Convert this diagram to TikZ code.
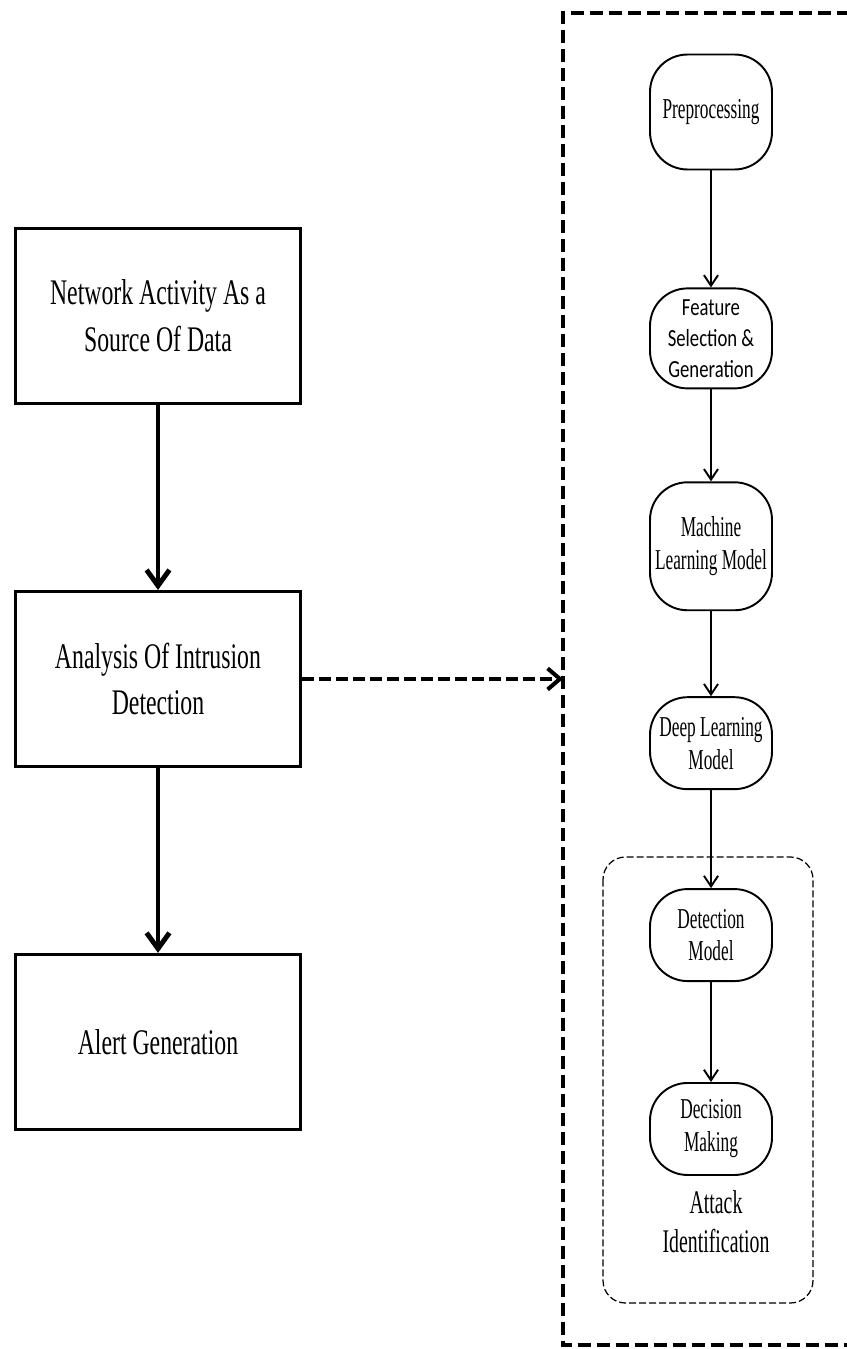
\documentclass[tikz,border=0pt]{standalone}
\usepackage{fontspec}
\setmainfont{Liberation Serif}[FakeStretch=0.66]
\newfontfamily\stepfont{Liberation Serif}[FakeStretch=0.6]
\newfontfamily\featfont{Carlito}[FakeStretch=0.76]
\usetikzlibrary{arrows.meta,positioning}

\begin{document}
\begin{tikzpicture}[x=0.02cm,y=-0.02cm,
      mybox/.style={
         draw=black,
         line width=1.7pt,
         minimum width=5.72cm,
         minimum height=3.5cm,
         inner sep=0pt,
         align=center,
         font=\fontsize{20.5}{26.6}\selectfont},
      myround/.style={
         draw=black,
         line width=1.1pt,
         rounded corners=0.75cm,
         minimum width=2.44cm,
         inner sep=0pt,
         align=center,
         font=\stepfont\fontsize{16.4}{18.7}\selectfont},
      myarrow/.style={-{Straight Barb[length=6pt,width=8pt]},line width=1.1pt},
      bigarrow/.style={-{Straight Barb[length=9pt,width=13pt]},line width=2.8pt},
      dasharrow/.style={-{Straight Barb[length=7pt,width=12pt]},line width=2.3pt,
         dash pattern=on 0.24cm off 0.1cm},
      framebox/.style={line width=2.3pt,dash pattern=on 0.26cm off 0.12cm},
      groupbox/.style={line width=0.7pt,dash pattern=on 0.14cm off 0.06cm,
         rounded corners=0.45cm},
      node distance=3.7cm
      ]
      \useasboundingbox (0,0) rectangle (846,1349);

      % left column
      \node[mybox] (src) at (158,316) {Network Activity As a\\Source Of Data};
      \node[mybox,below=of src] (ana) {Analysis Of Intrusion\\Detection};
      \node[mybox,below=of ana] (alert) {Alert Generation};

      % right column
      \node[myround,minimum height=2.3cm] (pre) at (711,112) {Preprocessing};
      \node[myround,minimum height=2.0cm,below=2.34cm of pre,
         font=\featfont\fontsize{14}{17.6}\selectfont] (feat) {Feature\\Selection \&\\Generation};
      \node[myround,minimum height=2.56cm,below=1.84cm of feat] (ml) {Machine\\Learning Model};
      \node[myround,minimum height=1.84cm,below=1.7cm of ml] (dl) {Deep Learning\\Model};
      \node[myround,minimum height=1.84cm,below=1.96cm of dl] (det) {Detection\\Model};
      \node[myround,minimum height=1.84cm,below=2.0cm of det] (dec) {Decision\\Making};
      \node[align=center,font=\stepfont\fontsize{18.8}{22}\selectfont] (atk) at (716,1222) {Attack\\Identification};

      \draw[framebox] (850,13) -- (563,13) coordinate (frameTL) -- (563,1345) -- (850,1345);
      \draw[groupbox] (603,857) rectangle (813,1303);

      \draw[bigarrow] (src) -- (ana);
      \draw[bigarrow] (ana) -- (alert);
      \draw[dasharrow] (ana.east) -- (ana.east -| frameTL);

    \foreach \i/\j in {pre/feat, feat/ml, ml/dl, dl/det, det/dec}
       \draw[myarrow] (\i) -- (\j);

    \end{tikzpicture}
\end{document}
